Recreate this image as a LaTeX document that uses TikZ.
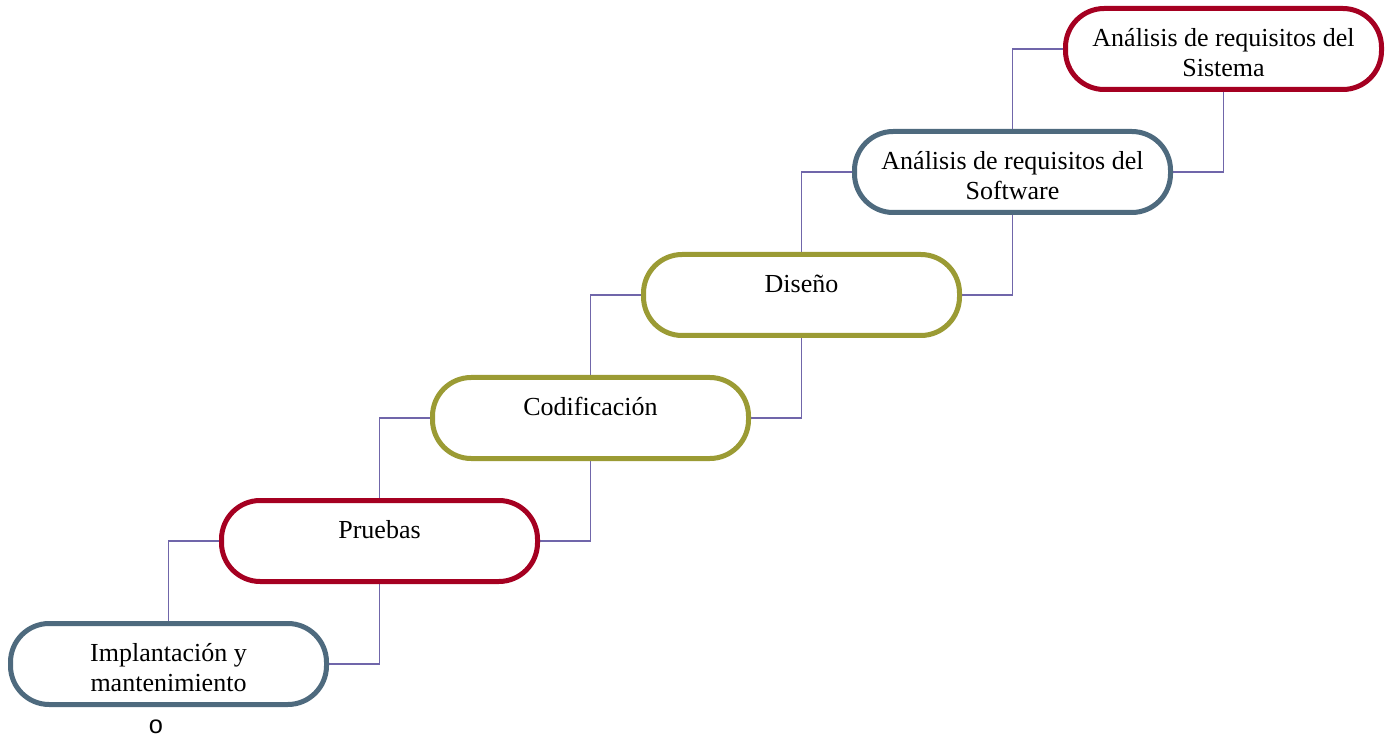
\documentclass[tikz,border=0pt]{standalone}
\usepackage{fontspec}
\setmainfont{Liberation Serif}
\newfontfamily\osans{Liberation Sans}
\usetikzlibrary{calc,backgrounds}
\definecolor{cred}{RGB}{165,0,33}
\definecolor{cblue}{RGB}{78,106,126}
\definecolor{colive}{RGB}{155,155,52}
\definecolor{cline}{RGB}{112,102,170}
\begin{document}
\begin{tikzpicture}[x=0.75pt,y=-0.75pt,
  stage/.style={draw=#1, fill=white, line width=3.75pt, rounded corners=29pt,
    rectangle, inner sep=0pt, minimum width=237pt, minimum height=60.75pt},
  txt/.style={anchor=north, inner sep=0pt, align=center,
    font=\fontsize{19.5}{22.7}\selectfont},
  conn/.style={draw=cline, line width=1.1pt}]
\useasboundingbox (0,0) rectangle (1387,737);
\node[stage=cred]   (s1) at (1223.5,49)  {};
\node[stage=cblue]  (s2) at (1012.5,172) {};
\node[stage=colive] (s3) at (801.5,295)  {};
\node[stage=colive] (s4) at (590.5,418)  {};
\node[stage=cred]   (s5) at (379.5,541)  {};
\node[stage=cblue]  (s6) at (168.5,664)  {};
\newcommand{\fs}{\rule{0pt}{18pt}}
\node[txt] (t1) at ($(s1.center)+(0,-27)$) {\fs Análisis de requisitos del\\Sistema};
\node[txt] (t2) at ($(s2.center)+(0,-27)$) {\fs Análisis de requisitos del\\Software};
\node[txt] (t3) at ($(s3.center)+(0,-27)$) {\fs Diseño};
\node[txt] (t4) at ($(s4.center)+(0,-27)$) {\fs Codificación};
\node[txt] (t5) at ($(s5.center)+(0,-27)$) {\fs Pruebas};
\node[txt] (t6) at ($(s6.center)+(0,-27)$) {\fs Implantación y\\mantenimiento};
\node[inner sep=0pt, font=\osans\fontsize{19}{19}\selectfont] (o) at (156,726.5) {o};
\begin{scope}[on background layer]
\draw[conn] (s1.west) -| (s2.north);
\draw[conn] (s1.south) |- (s2.east);
\draw[conn] (s2.west) -| (s3.north);
\draw[conn] (s2.south) |- (s3.east);
\draw[conn] (s3.west) -| (s4.north);
\draw[conn] (s3.south) |- (s4.east);
\draw[conn] (s4.west) -| (s5.north);
\draw[conn] (s4.south) |- (s5.east);
\draw[conn] (s5.west) -| (s6.north);
\draw[conn] (s5.south) |- (s6.east);
\end{scope}
\end{tikzpicture}
\end{document}
